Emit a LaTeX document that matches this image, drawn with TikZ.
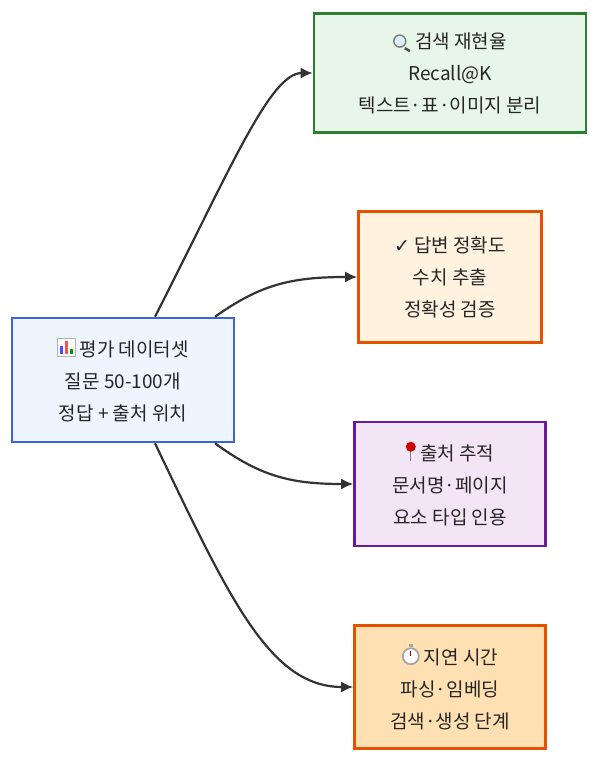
\documentclass[tikz,border=0pt]{standalone}
\usepackage{fontspec}
\setmainfont{Noto Sans CJK KR}
\newfontfamily\symfont{DejaVu Sans}
\usetikzlibrary{arrows.meta}
\definecolor{evalline}{HTML}{3D63DD}
\definecolor{evalfill}{HTML}{EEF5FF}
\definecolor{recline}{HTML}{2E7D32}
\definecolor{recfill}{HTML}{E8F5E9}
\definecolor{ansline}{HTML}{E65100}
\definecolor{ansfill}{HTML}{FFF3E0}
\definecolor{srcline}{HTML}{6A1B9A}
\definecolor{srcfill}{HTML}{F3E5F5}
\definecolor{latfill}{HTML}{FFE0B2}
% small drawn symbols for the emoji
\newcommand{\symlens}{\tikz[x=1pt,y=1pt,baseline=0pt]{\draw[line width=2.5pt,black!70] (12,0)--(17,-3);
  \draw[line width=1.5pt,gray,fill=cyan!15] (7,7) circle (6pt);}}
\newcommand{\symchart}{\tikz[x=1pt,y=1pt,baseline=-2pt]{\draw[gray!60,fill=white] (0,-2) rectangle (18,16);
  \fill[blue!70] (3,0) rectangle (6,8); \fill[red!70] (8,0) rectangle (11,13); \fill[green!60!black] (13,0) rectangle (16,5);}}
\newcommand{\sympin}{\tikz[x=1pt,y=1pt,baseline=-2pt]{\draw[gray,line width=1pt] (8,-2)--(8,8);
  \fill[red!80!black] (8,12) circle (5pt);}}
\newcommand{\symwatch}{\tikz[x=1pt,y=1pt,baseline=-2pt]{\fill[gray!70] (6,15) rectangle (10,18);
  \draw[gray!70,line width=1.8pt,fill=white] (8,6) circle (8pt); \draw[red!70!black,line width=1pt] (8,6)--(8,11);}}
\begin{document}
\begin{tikzpicture}[x=1pt,y=-1pt,
                    box/.style={draw,line width=2.6pt,align=center,inner sep=0pt,
                      font=\fontsize{19}{32}\selectfont,text=black!85},
                    link/.style={draw=black!80,line width=2.2pt,-{Latex[length=12pt,width=11pt]}}
]
\useasboundingbox (0,0) rectangle (600,762);
%
\node [box,draw=evalline,fill=evalfill,minimum width=222pt,minimum height=124pt] (eval) at (123,380)
  {\symchart{} 평가 데이터셋\\질문 50-100개\\정답 + 출처 위치};
\node [box,draw=recline,fill=recfill,minimum width=272pt,minimum height=119pt] (recall) at (450,73)
  {\symlens{} 검색 재현율\\Recall@K\\텍스트·표·이미지 분리};
\node [box,draw=ansline,fill=ansfill,minimum width=183pt,minimum height=131pt] (answer) at (450,277)
  {{\symfont ✓} 답변 정확도\\수치 추출\\정확성 검증};
\node [box,draw=srcline,fill=srcfill,minimum width=191pt,minimum height=124pt] (source) at (450,484)
  {\sympin{} 출처 추적\\문서명·페이지\\요소 타입 인용};
\node [box,draw=ansline,fill=latfill,minimum width=191pt,minimum height=123pt] (latency) at (450,687)
  {\symwatch{} 지연 시간\\파싱·임베딩\\검색·생성 단계};
%
\draw [link] ([xshift=32pt]eval.north) .. controls (230,170) and (270,73) .. (recall.west);
\draw [link] ([xshift=92pt]eval.north) .. controls (260,285) and (290,277) .. (answer.west);
\draw [link] ([xshift=92pt]eval.south) .. controls (260,476) and (290,484) .. (source.west);
\draw [link] ([xshift=32pt]eval.south) .. controls (230,600) and (270,687) .. (latency.west);
\end{tikzpicture}
\end{document}
